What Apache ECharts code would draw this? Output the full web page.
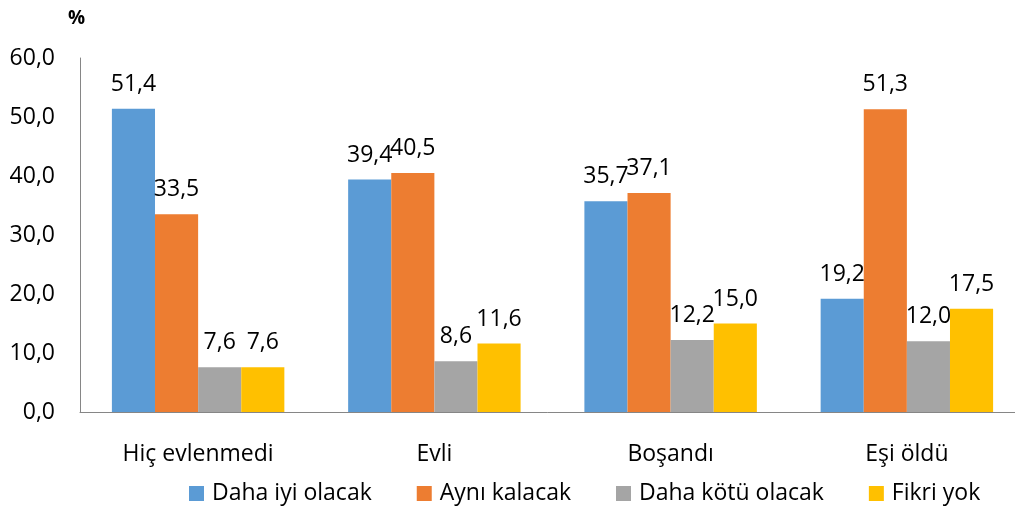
<!DOCTYPE html>
<html>
<head>
    <meta charset="utf-8">
    <title>ECharts</title>
    <script src="https://cdn.jsdelivr.net/npm/echarts@6/dist/echarts.min.js"></script>
</head>
<body style="margin:0">
    <div id="main" style="width: 1015px;height:512px;"></div>
    <script type="text/javascript">
        var categories = ['Hiç evlenmedi', 'Evli', 'Boşandı', 'Eşi öldü'];
        var dahaIyi = [51.4, 39.4, 35.7, 19.2];
        var ayni = [33.5, 40.5, 37.1, 51.3];
        var dahaKotu = [7.6, 8.6, 12.2, 12.0];
        var fikriYok = [7.6, 11.6, 15.0, 17.5];
        var seriesNames = ['Daha iyi olacak', 'Aynı kalacak', 'Daha kötü olacak', 'Fikri yok'];
        var colors = ['#5B9BD5', '#ED7D31', '#A5A5A5', '#FFC000'];

        function fmt(v) {
            return Number(v).toFixed(1).replace('.', ',');
        }

        var myChart = echarts.init(document.getElementById('main'));

        var allData = [dahaIyi, ayni, dahaKotu, fikriYok];
        var series = [];
        for (var i = 0; i < allData.length; i++) {
            series.push({
                name: seriesNames[i],
                type: 'bar',
                data: allData[i],
                barGap: '0%',
                barCategoryGap: '27%',
                itemStyle: { color: colors[i] },
                label: {
                    show: true,
                    position: 'top',
                    distance: 13,
                    fontSize: 23,
                    fontFamily: 'Open Sans',
                    color: '#000',
                    formatter: function (p) { return fmt(p.value); }
                }
            });
        }

        var option = {
            animation: false,
            color: colors,
            title: {
                text: '%',
                left: 63,
                top: 4,
                textStyle: { fontSize: 19, fontWeight: 'bold', fontFamily: 'Open Sans', color: '#000' }
            },
            grid: {
                left: 80,
                right: -10,
                top: 58,
                bottom: 100,
                outerBoundsMode: 'none'
            },
            legend: {
                data: seriesNames,
                bottom: 2,
                left: 184,
                itemWidth: 15,
                itemHeight: 15,
                itemGap: 45,
                icon: 'rect',
                textStyle: { fontSize: 23, fontFamily: 'Open Sans', color: '#000', padding: [0, 0, 0, 3] }
            },
            xAxis: {
                type: 'category',
                data: categories,
                axisLine: { lineStyle: { color: '#868686' } },
                axisTick: { show: false },
                axisLabel: { margin: 31, fontSize: 23, fontFamily: 'Open Sans', color: '#000' }
            },
            yAxis: {
                type: 'value',
                min: 0,
                max: 60,
                interval: 10,
                splitLine: { show: false },
                axisLine: { show: true, lineStyle: { color: '#868686' } },
                axisTick: { show: false },
                axisLabel: {
                    margin: 25,
                    fontSize: 23,
                    fontFamily: 'Open Sans',
                    color: '#000',
                    formatter: function (v) { return fmt(v); }
                }
            },
            series: series
        };

        myChart.setOption(option);
    </script>
</body>
</html>
